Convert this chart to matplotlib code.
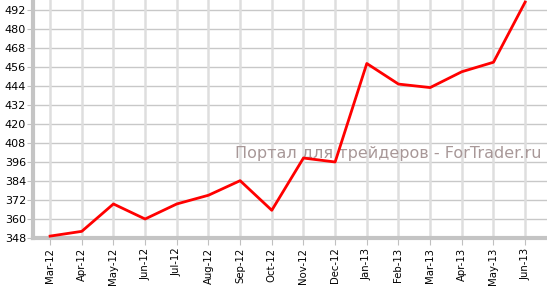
import matplotlib.pyplot as plt

# данные
months = ['Mar-12', 'Apr-12', 'May-12', 'Jun-12', 'Jul-12', 'Aug-12', 'Sep-12', 'Oct-12',
          'Nov-12', 'Dec-12', 'Jan-13', 'Feb-13', 'Mar-13', 'Apr-13', 'May-13', 'Jun-13']
values = [349.2, 352.2, 369.5, 360.0, 369.5, 375.0, 384.2, 365.5,
          398.5, 396.0, 458.2, 445.2, 443.0, 453.0, 459.0, 497.0]
y_ticks = list(range(348, 493, 12))

plt.rcParams['font.family'] = ['DejaVu Sans']

fig = plt.figure(figsize=(5.47, 2.86), dpi=100)
ax = fig.add_axes([33 / 547, 48 / 286, 514 / 547, 238 / 286])

x = list(range(len(months)))
ax.plot(x, values, color='#ff0000', linewidth=2, zorder=4)

ax.set_xlim(-0.54, 15.69)
ax.set_ylim(348, 498.3)
ax.set_yticks(y_ticks)
ax.set_xticks(x)
ax.set_xticklabels(months, rotation=90, fontsize=7.3)
ax.tick_params(axis='y', labelsize=8, length=4, color='#c0c0c0', pad=1)
ax.tick_params(axis='x', length=5, color='#c0c0c0', pad=2)

# сетка
for yt in y_ticks:
    ax.axhline(yt, color='#c8c8c8', linewidth=1, zorder=1)
for xt in x:
    ax.axvline(xt, color='#dedede', linewidth=1.8, zorder=1)

for side in ['top', 'right']:
    ax.spines[side].set_visible(False)
for side in ['left', 'bottom']:
    ax.spines[side].set_color('#c4c4c4')
    ax.spines[side].set_linewidth(3)

ax.text(0.99, 0.357, 'Портал для трейдеров - ForTrader.ru', transform=ax.transAxes,
        ha='right', va='center', fontsize=11.5, color='#a89898', zorder=3)

fig.savefig('out.png', dpi=100)
